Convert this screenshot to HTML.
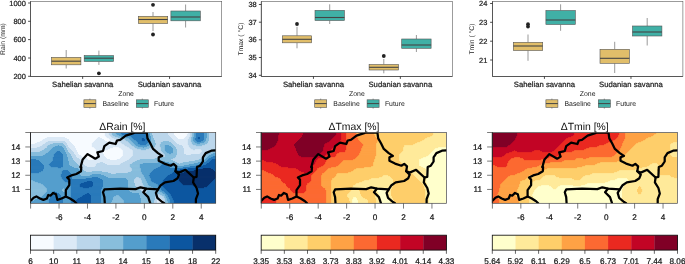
<!DOCTYPE html>
<html><head><meta charset="utf-8"><title>Figure</title>
<style>html,body{margin:0;padding:0;background:#fff;overflow:hidden}svg{display:block}</style></head>
<body><svg width="685" height="264" viewBox="0 0 685 264" text-rendering="geometricPrecision">
<rect width="685" height="264" fill="#fff"/>
<rect x="30.5" y="1.6" width="191.2" height="74.9" fill="#fff" stroke="#5a5a5a" stroke-width="0.6"/>
<line x1="66.2" y1="50" x2="66.2" y2="57.3" stroke="#555" stroke-width="0.6"/>
<line x1="66.2" y1="64.8" x2="66.2" y2="68.5" stroke="#555" stroke-width="0.6"/>
<rect x="51.5" y="57.3" width="29.4" height="7.5" fill="#E1BE6A" stroke="#555" stroke-width="0.6"/>
<line x1="51.5" y1="61.2" x2="80.9" y2="61.2" stroke="#444" stroke-width="1.1"/>
<line x1="98.9" y1="50.6" x2="98.9" y2="55.6" stroke="#555" stroke-width="0.6"/>
<line x1="98.9" y1="61.5" x2="98.9" y2="64.9" stroke="#555" stroke-width="0.6"/>
<rect x="84.2" y="55.6" width="29.4" height="5.899999999999999" fill="#40B0A6" stroke="#555" stroke-width="0.6"/>
<line x1="84.2" y1="58.2" x2="113.60000000000001" y2="58.2" stroke="#444" stroke-width="1.1"/>
<line x1="153" y1="12" x2="153" y2="16.3" stroke="#555" stroke-width="0.6"/>
<line x1="153" y1="23.5" x2="153" y2="31" stroke="#555" stroke-width="0.6"/>
<rect x="138.3" y="16.3" width="29.4" height="7.199999999999999" fill="#E1BE6A" stroke="#555" stroke-width="0.6"/>
<line x1="138.3" y1="19.5" x2="167.7" y2="19.5" stroke="#444" stroke-width="1.1"/>
<line x1="185.6" y1="4.5" x2="185.6" y2="11" stroke="#555" stroke-width="0.6"/>
<line x1="185.6" y1="20.8" x2="185.6" y2="27.5" stroke="#555" stroke-width="0.6"/>
<rect x="170.9" y="11" width="29.4" height="9.8" fill="#40B0A6" stroke="#555" stroke-width="0.6"/>
<line x1="170.9" y1="17" x2="200.29999999999998" y2="17" stroke="#444" stroke-width="1.1"/>
<circle cx="98.9" cy="73.3" r="1.9" fill="#222"/>
<circle cx="153" cy="4.8" r="1.9" fill="#222"/>
<circle cx="153" cy="34.5" r="1.9" fill="#222"/>
<line x1="30.5" y1="1.6" x2="30.5" y2="76.5" stroke="#3a3a3a" stroke-width="0.7"/>
<line x1="30.5" y1="76.5" x2="221.7" y2="76.5" stroke="#3a3a3a" stroke-width="0.7"/>
<line x1="28.1" y1="3" x2="30.5" y2="3" stroke="#222" stroke-width="0.8"/>
<text x="25.9" y="5.6" text-anchor="end" font-family="Liberation Sans, Arial, Helvetica, sans-serif" stroke="#222" stroke-width="0.22" font-size="7.45" fill="#222">1000</text>
<line x1="28.1" y1="21.3" x2="30.5" y2="21.3" stroke="#222" stroke-width="0.8"/>
<text x="25.9" y="23.900000000000002" text-anchor="end" font-family="Liberation Sans, Arial, Helvetica, sans-serif" stroke="#222" stroke-width="0.22" font-size="7.45" fill="#222">800</text>
<line x1="28.1" y1="39.6" x2="30.5" y2="39.6" stroke="#222" stroke-width="0.8"/>
<text x="25.9" y="42.2" text-anchor="end" font-family="Liberation Sans, Arial, Helvetica, sans-serif" stroke="#222" stroke-width="0.22" font-size="7.45" fill="#222">600</text>
<line x1="28.1" y1="58" x2="30.5" y2="58" stroke="#222" stroke-width="0.8"/>
<text x="25.9" y="60.6" text-anchor="end" font-family="Liberation Sans, Arial, Helvetica, sans-serif" stroke="#222" stroke-width="0.22" font-size="7.45" fill="#222">400</text>
<line x1="28.1" y1="76.3" x2="30.5" y2="76.3" stroke="#222" stroke-width="0.8"/>
<text x="25.9" y="78.89999999999999" text-anchor="end" font-family="Liberation Sans, Arial, Helvetica, sans-serif" stroke="#222" stroke-width="0.22" font-size="7.45" fill="#222">200</text>
<line x1="82.65" y1="76.5" x2="82.65" y2="78.9" stroke="#222" stroke-width="0.8"/>
<text x="82.65" y="86.9" text-anchor="middle" font-family="Liberation Sans, Arial, Helvetica, sans-serif" stroke="#222" stroke-width="0.22" font-size="7.7" fill="#1a1a1a">Sahelian savanna</text>
<line x1="169.55" y1="76.5" x2="169.55" y2="78.9" stroke="#222" stroke-width="0.8"/>
<text x="169.55" y="86.9" text-anchor="middle" font-family="Liberation Sans, Arial, Helvetica, sans-serif" stroke="#222" stroke-width="0.22" font-size="7.7" fill="#1a1a1a">Sudanian savanna</text>
<text transform="translate(5.3,39.05) rotate(-90)" text-anchor="middle" font-family="Liberation Sans, Arial, Helvetica, sans-serif" font-size="6.8" fill="#222">Rain (mm)</text>
<text x="126.10" y="95.6" text-anchor="middle" font-family="Liberation Sans, Arial, Helvetica, sans-serif" font-size="6.9" fill="#1a1a1a">Zone</text>
<line x1="89.9" y1="98.6" x2="89.9" y2="108.6" stroke="#555" stroke-width="0.6"/>
<rect x="83.9" y="99.8" width="12" height="7.6" fill="#E1BE6A" stroke="#555" stroke-width="0.6"/>
<line x1="83.9" y1="103.6" x2="95.9" y2="103.6" stroke="#444" stroke-width="1"/>
<text x="102.5" y="106" font-family="Liberation Sans, Arial, Helvetica, sans-serif" font-size="6.9" fill="#1a1a1a">Baseline</text>
<line x1="142.3" y1="98.6" x2="142.3" y2="108.6" stroke="#555" stroke-width="0.6"/>
<rect x="136.3" y="99.8" width="12" height="7.6" fill="#40B0A6" stroke="#555" stroke-width="0.6"/>
<line x1="136.3" y1="103.6" x2="148.3" y2="103.6" stroke="#444" stroke-width="1"/>
<text x="154.1" y="106" font-family="Liberation Sans, Arial, Helvetica, sans-serif" font-size="6.9" fill="#1a1a1a">Future</text>
<rect x="261.3" y="1.6" width="191.2" height="74.9" fill="#fff" stroke="#5a5a5a" stroke-width="0.6"/>
<line x1="297" y1="26.8" x2="297" y2="35.8" stroke="#555" stroke-width="0.6"/>
<line x1="297" y1="42.8" x2="297" y2="48.3" stroke="#555" stroke-width="0.6"/>
<rect x="282.3" y="35.8" width="29.4" height="7.0" fill="#E1BE6A" stroke="#555" stroke-width="0.6"/>
<line x1="282.3" y1="39.3" x2="311.7" y2="39.3" stroke="#444" stroke-width="1.1"/>
<line x1="329.7" y1="4.3" x2="329.7" y2="10.3" stroke="#555" stroke-width="0.6"/>
<line x1="329.7" y1="20.5" x2="329.7" y2="24" stroke="#555" stroke-width="0.6"/>
<rect x="315.0" y="10.3" width="29.4" height="10.2" fill="#40B0A6" stroke="#555" stroke-width="0.6"/>
<line x1="315.0" y1="17.5" x2="344.4" y2="17.5" stroke="#444" stroke-width="1.1"/>
<line x1="383.8" y1="59" x2="383.8" y2="64.5" stroke="#555" stroke-width="0.6"/>
<line x1="383.8" y1="70" x2="383.8" y2="73.3" stroke="#555" stroke-width="0.6"/>
<rect x="369.1" y="64.5" width="29.4" height="5.5" fill="#E1BE6A" stroke="#555" stroke-width="0.6"/>
<line x1="369.1" y1="67.3" x2="398.5" y2="67.3" stroke="#444" stroke-width="1.1"/>
<line x1="416.4" y1="35" x2="416.4" y2="39" stroke="#555" stroke-width="0.6"/>
<line x1="416.4" y1="48.3" x2="416.4" y2="52" stroke="#555" stroke-width="0.6"/>
<rect x="401.7" y="39" width="29.4" height="9.299999999999997" fill="#40B0A6" stroke="#555" stroke-width="0.6"/>
<line x1="401.7" y1="45" x2="431.09999999999997" y2="45" stroke="#444" stroke-width="1.1"/>
<circle cx="297" cy="24" r="1.9" fill="#222"/>
<circle cx="383.8" cy="56" r="1.9" fill="#222"/>
<line x1="261.3" y1="1.6" x2="261.3" y2="76.5" stroke="#3a3a3a" stroke-width="0.7"/>
<line x1="261.3" y1="76.5" x2="452.5" y2="76.5" stroke="#3a3a3a" stroke-width="0.7"/>
<line x1="258.90000000000003" y1="4.5" x2="261.3" y2="4.5" stroke="#222" stroke-width="0.8"/>
<text x="256.7" y="7.1" text-anchor="end" font-family="Liberation Sans, Arial, Helvetica, sans-serif" stroke="#222" stroke-width="0.22" font-size="7.45" fill="#222">38</text>
<line x1="258.90000000000003" y1="22.2" x2="261.3" y2="22.2" stroke="#222" stroke-width="0.8"/>
<text x="256.7" y="24.8" text-anchor="end" font-family="Liberation Sans, Arial, Helvetica, sans-serif" stroke="#222" stroke-width="0.22" font-size="7.45" fill="#222">37</text>
<line x1="258.90000000000003" y1="39.8" x2="261.3" y2="39.8" stroke="#222" stroke-width="0.8"/>
<text x="256.7" y="42.4" text-anchor="end" font-family="Liberation Sans, Arial, Helvetica, sans-serif" stroke="#222" stroke-width="0.22" font-size="7.45" fill="#222">36</text>
<line x1="258.90000000000003" y1="57.5" x2="261.3" y2="57.5" stroke="#222" stroke-width="0.8"/>
<text x="256.7" y="60.1" text-anchor="end" font-family="Liberation Sans, Arial, Helvetica, sans-serif" stroke="#222" stroke-width="0.22" font-size="7.45" fill="#222">35</text>
<line x1="258.90000000000003" y1="75.3" x2="261.3" y2="75.3" stroke="#222" stroke-width="0.8"/>
<text x="256.7" y="77.89999999999999" text-anchor="end" font-family="Liberation Sans, Arial, Helvetica, sans-serif" stroke="#222" stroke-width="0.22" font-size="7.45" fill="#222">34</text>
<line x1="313.45" y1="76.5" x2="313.45" y2="78.9" stroke="#222" stroke-width="0.8"/>
<text x="313.45" y="86.9" text-anchor="middle" font-family="Liberation Sans, Arial, Helvetica, sans-serif" stroke="#222" stroke-width="0.22" font-size="7.7" fill="#1a1a1a">Sahelian savanna</text>
<line x1="400.35" y1="76.5" x2="400.35" y2="78.9" stroke="#222" stroke-width="0.8"/>
<text x="400.35" y="86.9" text-anchor="middle" font-family="Liberation Sans, Arial, Helvetica, sans-serif" stroke="#222" stroke-width="0.22" font-size="7.7" fill="#1a1a1a">Sudanian savanna</text>
<text transform="translate(242.9,39.05) rotate(-90)" text-anchor="middle" font-family="Liberation Sans, Arial, Helvetica, sans-serif" font-size="6.8" fill="#222">Tmax ( °C)</text>
<text x="356.90" y="95.6" text-anchor="middle" font-family="Liberation Sans, Arial, Helvetica, sans-serif" font-size="6.9" fill="#1a1a1a">Zone</text>
<line x1="320.7" y1="98.6" x2="320.7" y2="108.6" stroke="#555" stroke-width="0.6"/>
<rect x="314.7" y="99.8" width="12" height="7.6" fill="#E1BE6A" stroke="#555" stroke-width="0.6"/>
<line x1="314.7" y1="103.6" x2="326.7" y2="103.6" stroke="#444" stroke-width="1"/>
<text x="333.3" y="106" font-family="Liberation Sans, Arial, Helvetica, sans-serif" font-size="6.9" fill="#1a1a1a">Baseline</text>
<line x1="373.1" y1="98.6" x2="373.1" y2="108.6" stroke="#555" stroke-width="0.6"/>
<rect x="367.1" y="99.8" width="12" height="7.6" fill="#40B0A6" stroke="#555" stroke-width="0.6"/>
<line x1="367.1" y1="103.6" x2="379.1" y2="103.6" stroke="#444" stroke-width="1"/>
<text x="384.9" y="106" font-family="Liberation Sans, Arial, Helvetica, sans-serif" font-size="6.9" fill="#1a1a1a">Future</text>
<rect x="492.5" y="1.6" width="190.39999999999998" height="74.9" fill="#fff" stroke="#5a5a5a" stroke-width="0.6"/>
<line x1="528" y1="34.5" x2="528" y2="42.3" stroke="#555" stroke-width="0.6"/>
<line x1="528" y1="50.5" x2="528" y2="60.8" stroke="#555" stroke-width="0.6"/>
<rect x="513.3" y="42.3" width="29.4" height="8.200000000000003" fill="#E1BE6A" stroke="#555" stroke-width="0.6"/>
<line x1="513.3" y1="46" x2="542.7" y2="46" stroke="#444" stroke-width="1.1"/>
<line x1="560.6" y1="4.3" x2="560.6" y2="10.5" stroke="#555" stroke-width="0.6"/>
<line x1="560.6" y1="24.5" x2="560.6" y2="30.8" stroke="#555" stroke-width="0.6"/>
<rect x="545.9" y="10.5" width="29.4" height="14.0" fill="#40B0A6" stroke="#555" stroke-width="0.6"/>
<line x1="545.9" y1="20" x2="575.3000000000001" y2="20" stroke="#444" stroke-width="1.1"/>
<line x1="614.7" y1="41.8" x2="614.7" y2="49.3" stroke="#555" stroke-width="0.6"/>
<line x1="614.7" y1="63.3" x2="614.7" y2="73" stroke="#555" stroke-width="0.6"/>
<rect x="600.0" y="49.3" width="29.4" height="14.0" fill="#E1BE6A" stroke="#555" stroke-width="0.6"/>
<line x1="600.0" y1="58.3" x2="629.4000000000001" y2="58.3" stroke="#444" stroke-width="1.1"/>
<line x1="647.2" y1="18" x2="647.2" y2="26" stroke="#555" stroke-width="0.6"/>
<line x1="647.2" y1="36" x2="647.2" y2="45.5" stroke="#555" stroke-width="0.6"/>
<rect x="632.5" y="26" width="29.4" height="10" fill="#40B0A6" stroke="#555" stroke-width="0.6"/>
<line x1="632.5" y1="32" x2="661.9000000000001" y2="32" stroke="#444" stroke-width="1.1"/>
<circle cx="528" cy="24.2" r="1.9" fill="#222"/>
<circle cx="528" cy="26.6" r="1.9" fill="#222"/>
<line x1="492.5" y1="1.6" x2="492.5" y2="76.5" stroke="#3a3a3a" stroke-width="0.7"/>
<line x1="492.5" y1="76.5" x2="682.9" y2="76.5" stroke="#3a3a3a" stroke-width="0.7"/>
<line x1="490.1" y1="3.5" x2="492.5" y2="3.5" stroke="#222" stroke-width="0.8"/>
<text x="487.3" y="6.1" text-anchor="end" font-family="Liberation Sans, Arial, Helvetica, sans-serif" stroke="#222" stroke-width="0.22" font-size="7.45" fill="#222">24</text>
<line x1="490.1" y1="22.3" x2="492.5" y2="22.3" stroke="#222" stroke-width="0.8"/>
<text x="487.3" y="24.900000000000002" text-anchor="end" font-family="Liberation Sans, Arial, Helvetica, sans-serif" stroke="#222" stroke-width="0.22" font-size="7.45" fill="#222">23</text>
<line x1="490.1" y1="41.2" x2="492.5" y2="41.2" stroke="#222" stroke-width="0.8"/>
<text x="487.3" y="43.800000000000004" text-anchor="end" font-family="Liberation Sans, Arial, Helvetica, sans-serif" stroke="#222" stroke-width="0.22" font-size="7.45" fill="#222">22</text>
<line x1="490.1" y1="60" x2="492.5" y2="60" stroke="#222" stroke-width="0.8"/>
<text x="487.3" y="62.6" text-anchor="end" font-family="Liberation Sans, Arial, Helvetica, sans-serif" stroke="#222" stroke-width="0.22" font-size="7.45" fill="#222">21</text>
<line x1="544.43" y1="76.5" x2="544.43" y2="78.9" stroke="#222" stroke-width="0.8"/>
<text x="544.43" y="86.9" text-anchor="middle" font-family="Liberation Sans, Arial, Helvetica, sans-serif" stroke="#222" stroke-width="0.22" font-size="7.7" fill="#1a1a1a">Sahelian savanna</text>
<line x1="630.97" y1="76.5" x2="630.97" y2="78.9" stroke="#222" stroke-width="0.8"/>
<text x="630.97" y="86.9" text-anchor="middle" font-family="Liberation Sans, Arial, Helvetica, sans-serif" stroke="#222" stroke-width="0.22" font-size="7.7" fill="#1a1a1a">Sudanian savanna</text>
<text transform="translate(473.6,39.05) rotate(-90)" text-anchor="middle" font-family="Liberation Sans, Arial, Helvetica, sans-serif" font-size="6.8" fill="#222">Tmin ( °C)</text>
<text x="587.70" y="95.6" text-anchor="middle" font-family="Liberation Sans, Arial, Helvetica, sans-serif" font-size="6.9" fill="#1a1a1a">Zone</text>
<line x1="551.9" y1="98.6" x2="551.9" y2="108.6" stroke="#555" stroke-width="0.6"/>
<rect x="545.9" y="99.8" width="12" height="7.6" fill="#E1BE6A" stroke="#555" stroke-width="0.6"/>
<line x1="545.9" y1="103.6" x2="557.9" y2="103.6" stroke="#444" stroke-width="1"/>
<text x="564.5" y="106" font-family="Liberation Sans, Arial, Helvetica, sans-serif" font-size="6.9" fill="#1a1a1a">Baseline</text>
<line x1="604.3" y1="98.6" x2="604.3" y2="108.6" stroke="#555" stroke-width="0.6"/>
<rect x="598.3" y="99.8" width="12" height="7.6" fill="#40B0A6" stroke="#555" stroke-width="0.6"/>
<line x1="598.3" y1="103.6" x2="610.3" y2="103.6" stroke="#444" stroke-width="1"/>
<text x="616.1" y="106" font-family="Liberation Sans, Arial, Helvetica, sans-serif" font-size="6.9" fill="#1a1a1a">Future</text>
<g shape-rendering="crispEdges" transform="translate(30.5,132.5) scale(1.00108,0.99718)">
<rect x="0" y="0" width="185" height="71" fill="#F7FBFF"/>
<path fill="#DBE9F6" stroke="#DBE9F6" stroke-width="0.15" d="M157 0h2v2h-2zM74 0h4v3h-4zM137 0h6v3h-6zM74 3h5v1h-5zM138 3h6v1h-6zM156 2h3v2h-3zM75 4h5v1h-5zM139 4h6v1h-6zM155 4h4v1h-4zM16 5h18v1h-18zM67 5h2v1h-2zM76 5h5v1h-5zM140 5h6v1h-6zM154 5h4v1h-4zM14 6h22v1h-22zM66 6h5v1h-5zM78 6h5v1h-5zM141 6h6v1h-6zM153 6h5v1h-5zM12 7h26v1h-26zM65 7h8v1h-8zM79 7h6v1h-6zM142 7h15v1h-15zM11 8h27v1h-27zM64 8h10v1h-10zM79 8h9v1h-9zM143 8h14v1h-14zM9 9h8v1h-8zM34 9h5v1h-5zM63 9h13v1h-13zM78 9h11v1h-11zM144 9h13v1h-13zM6 10h9v1h-9zM35 10h5v1h-5zM62 10h28v1h-28zM145 10h12v1h-12zM4 11h10v1h-10zM36 11h5v1h-5zM61 11h30v1h-30zM146 11h11v1h-11zM0 12h12v1h-12zM36 12h6v1h-6zM61 12h32v1h-32zM148 12h9v1h-9zM0 13h11v1h-11zM37 13h6v1h-6zM61 13h33v1h-33zM151 13h7v1h-7zM0 14h9v1h-9zM37 14h7v1h-7zM61 14h35v1h-35zM152 14h6v1h-6zM0 15h6v1h-6zM38 15h6v1h-6zM63 15h19v1h-19zM88 15h10v1h-10zM152 15h7v1h-7zM39 16h6v1h-6zM64 16h15v1h-15zM90 16h9v1h-9zM153 16h7v1h-7zM40 17h5v1h-5zM65 17h12v1h-12zM91 17h10v1h-10zM153 17h9v1h-9zM164 17h6v1h-6zM41 18h5v1h-5zM65 18h9v1h-9zM42 19h4v1h-4zM66 19h7v1h-7zM153 18h18v2h-18zM153 20h17v1h-17zM43 20h4v2h-4zM66 20h6v2h-6zM153 21h16v1h-16zM44 22h4v1h-4zM155 22h5v1h-5zM45 23h5v1h-5zM67 22h6v2h-6zM92 18h10v6h-10zM45 24h6v1h-6zM66 24h8v1h-8zM91 24h10v1h-10zM46 25h7v1h-7zM65 25h10v1h-10zM90 25h10v1h-10zM48 26h8v1h-8zM64 26h12v1h-12zM89 26h10v1h-10zM49 27h8v1h-8zM62 27h17v1h-17zM86 27h12v1h-12zM50 28h46v1h-46zM51 29h43v1h-43zM51 30h18v1h-18zM72 30h20v1h-20zM52 31h14v1h-14zM74 31h16v1h-16zM53 32h12v1h-12zM76 32h13v1h-13zM54 33h11v1h-11zM56 34h8v1h-8zM127 66h3v1h-3zM126 67h5v1h-5zM126 68h6v3h-6z"/>
<path fill="#BBD6EB" stroke="#BBD6EB" stroke-width="0.15" d="M78 0h3v3h-3zM121 0h16v3h-16zM79 3h3v1h-3zM122 3h16v1h-16zM80 4h4v1h-4zM122 4h17v1h-17zM159 0h2v5h-2zM81 5h6v1h-6zM122 5h18v1h-18zM83 6h8v1h-8zM123 6h18v1h-18zM158 5h2v2h-2zM85 7h9v1h-9zM123 7h19v1h-19zM88 8h7v1h-7zM124 8h19v1h-19zM178 0h7v9h-7zM17 9h17v1h-17zM89 9h8v1h-8zM124 9h8v1h-8zM138 9h6v1h-6zM157 7h3v3h-3zM15 10h20v1h-20zM90 10h8v1h-8zM124 10h6v1h-6zM140 10h5v1h-5zM177 9h8v2h-8zM14 11h8v1h-8zM32 11h4v1h-4zM91 11h8v1h-8zM125 11h5v1h-5zM141 11h5v1h-5zM157 10h4v2h-4zM176 11h9v1h-9zM12 12h7v1h-7zM33 12h3v1h-3zM93 12h7v1h-7zM125 12h4v1h-4zM142 12h6v1h-6zM157 12h5v1h-5zM174 12h11v1h-11zM11 13h6v1h-6zM34 13h3v1h-3zM94 13h7v1h-7zM143 13h8v1h-8zM158 13h7v1h-7zM171 13h14v1h-14zM9 14h7v1h-7zM35 14h2v1h-2zM96 14h7v1h-7zM124 13h5v2h-5zM144 14h8v1h-8zM158 14h27v1h-27zM6 15h10v1h-10zM35 15h3v1h-3zM98 15h6v1h-6zM122 15h8v1h-8zM145 15h7v1h-7zM159 15h26v1h-26zM0 16h14v1h-14zM36 16h3v1h-3zM99 16h7v1h-7zM118 16h12v1h-12zM145 16h8v1h-8zM160 16h25v1h-25zM0 17h13v1h-13zM36 17h4v1h-4zM101 17h9v1h-9zM115 17h15v1h-15zM162 17h2v1h-2zM170 17h12v1h-12zM0 18h11v1h-11zM37 18h4v1h-4zM102 18h28v1h-28zM171 18h9v1h-9zM0 19h9v1h-9zM37 19h5v1h-5zM102 19h29v1h-29zM171 19h8v1h-8zM38 20h5v1h-5zM102 20h30v1h-30zM170 20h7v1h-7zM39 21h4v1h-4zM102 21h31v1h-31zM146 17h7v5h-7zM169 21h7v1h-7zM40 22h4v1h-4zM146 22h9v1h-9zM160 22h15v1h-15zM40 23h5v1h-5zM102 22h32v2h-32zM145 23h29v1h-29zM41 24h4v1h-4zM101 24h33v1h-33zM145 24h28v1h-28zM41 25h5v1h-5zM100 25h27v1h-27zM144 25h28v1h-28zM42 26h6v1h-6zM99 26h25v1h-25zM142 26h28v1h-28zM42 27h7v1h-7zM98 27h11v1h-11zM140 27h28v1h-28zM43 28h7v1h-7zM96 28h10v1h-10zM142 28h22v1h-22zM44 29h7v1h-7zM94 29h10v1h-10zM144 29h14v1h-14zM45 30h6v1h-6zM69 30h3v1h-3zM92 30h10v1h-10zM146 30h6v1h-6zM46 31h6v1h-6zM66 31h8v1h-8zM90 31h11v1h-11zM148 31h1v1h-1zM47 32h6v1h-6zM65 32h11v1h-11zM89 32h10v1h-10zM48 33h6v1h-6zM65 33h34v1h-34zM50 34h6v1h-6zM64 34h35v1h-35zM51 35h49v1h-49zM51 36h50v1h-50zM52 37h49v1h-49zM53 38h48v1h-48zM55 39h6v1h-6zM71 39h29v1h-29zM77 40h20v1h-20zM80 41h5v1h-5zM105 45h3v1h-3zM104 46h6v1h-6zM103 47h7v1h-7zM103 48h8v3h-8zM104 51h8v2h-8zM104 53h9v1h-9zM105 54h8v1h-8zM106 55h8v1h-8zM107 56h8v1h-8zM109 57h7v1h-7zM110 58h6v1h-6zM111 59h5v1h-5zM111 60h4v1h-4zM112 61h2v1h-2zM126 62h3v1h-3zM125 63h6v1h-6zM124 64h9v2h-9zM124 66h3v1h-3zM130 66h4v1h-4zM124 67h2v1h-2zM131 67h3v1h-3zM123 68h3v3h-3zM132 68h2v3h-2z"/>
<path fill="#88BEDC" stroke="#88BEDC" stroke-width="0.15" d="M81 0h4v2h-4zM81 2h5v1h-5zM119 0h2v3h-2zM82 3h6v1h-6zM119 3h3v1h-3zM84 4h6v1h-6zM161 0h2v5h-2zM87 5h8v1h-8zM120 4h2v2h-2zM176 0h2v6h-2zM91 6h7v1h-7zM94 7h5v1h-5zM120 6h3v2h-3zM95 8h5v1h-5zM160 5h2v4h-2zM175 6h3v3h-3zM97 9h4v1h-4zM132 9h6v1h-6zM160 9h3v1h-3zM174 9h3v1h-3zM98 10h4v1h-4zM120 8h4v3h-4zM130 10h10v1h-10zM161 10h3v1h-3zM173 10h4v1h-4zM22 11h10v1h-10zM99 11h4v1h-4zM130 11h11v1h-11zM161 11h5v1h-5zM169 11h7v1h-7zM19 12h14v1h-14zM100 12h4v1h-4zM120 11h5v2h-5zM129 12h13v1h-13zM162 12h12v1h-12zM17 13h10v1h-10zM28 13h6v1h-6zM101 13h4v1h-4zM118 13h6v1h-6zM138 13h5v1h-5zM165 13h6v1h-6zM16 14h8v1h-8zM31 14h4v1h-4zM103 14h4v1h-4zM116 14h8v1h-8zM129 13h5v2h-5zM140 14h4v1h-4zM16 15h6v1h-6zM32 15h3v1h-3zM104 15h8v1h-8zM113 15h9v1h-9zM141 15h4v1h-4zM14 16h7v1h-7zM106 16h12v1h-12zM142 16h3v1h-3zM13 17h7v1h-7zM33 16h3v2h-3zM110 17h5v1h-5zM182 17h3v1h-3zM11 18h8v1h-8zM130 15h4v4h-4zM180 18h5v1h-5zM9 19h9v1h-9zM34 18h3v2h-3zM131 19h4v1h-4zM179 19h6v1h-6zM0 20h17v1h-17zM35 20h3v1h-3zM132 20h4v1h-4zM142 17h4v4h-4zM177 20h8v1h-8zM0 21h15v1h-15zM35 21h4v1h-4zM133 21h5v1h-5zM140 21h6v1h-6zM176 21h6v1h-6zM0 22h14v1h-14zM134 22h12v1h-12zM175 22h5v1h-5zM0 23h12v1h-12zM36 22h4v2h-4zM174 23h4v1h-4zM36 24h5v1h-5zM134 23h11v2h-11zM173 24h4v1h-4zM37 25h4v1h-4zM127 25h17v1h-17zM172 25h4v1h-4zM124 26h18v1h-18zM170 26h5v1h-5zM37 26h5v2h-5zM109 27h31v1h-31zM168 27h6v1h-6zM37 28h6v1h-6zM106 28h36v1h-36zM164 28h9v1h-9zM38 29h6v1h-6zM104 29h26v1h-26zM134 29h10v1h-10zM158 29h12v1h-12zM38 30h7v1h-7zM102 30h25v1h-25zM138 30h8v1h-8zM152 30h15v1h-15zM38 31h8v1h-8zM101 31h11v1h-11zM141 31h7v1h-7zM149 31h14v1h-14zM38 32h9v1h-9zM144 32h14v1h-14zM39 33h9v1h-9zM145 33h8v1h-8zM41 34h9v1h-9zM99 32h10v3h-10zM43 35h8v1h-8zM100 35h9v1h-9zM47 36h4v1h-4zM48 37h4v1h-4zM49 38h4v1h-4zM101 36h9v3h-9zM49 39h6v1h-6zM61 39h10v1h-10zM100 39h10v1h-10zM49 40h28v1h-28zM97 40h14v1h-14zM49 41h31v1h-31zM85 41h26v1h-26zM49 42h12v1h-12zM70 42h42v1h-42zM50 43h9v1h-9zM73 43h40v1h-40zM75 44h38v1h-38zM77 45h28v1h-28zM108 45h6v1h-6zM95 46h9v1h-9zM110 46h4v1h-4zM96 47h7v1h-7zM110 47h5v1h-5zM0 48h2v1h-2zM111 48h4v1h-4zM0 49h4v1h-4zM0 50h7v1h-7zM97 48h6v3h-6zM111 49h5v2h-5zM0 51h10v1h-10zM0 52h12v1h-12zM112 51h5v2h-5zM0 53h13v1h-13zM97 51h7v3h-7zM113 53h5v1h-5zM0 54h14v1h-14zM97 54h8v1h-8zM113 54h7v1h-7zM0 55h15v1h-15zM97 55h9v1h-9zM114 55h8v1h-8zM32 56h1v1h-1zM97 56h10v1h-10zM115 56h9v1h-9zM97 57h12v1h-12zM116 57h10v1h-10zM31 57h3v2h-3zM98 58h12v1h-12zM116 58h11v1h-11zM0 56h16v4h-16zM32 59h2v1h-2zM99 59h12v1h-12zM116 59h13v1h-13zM0 60h15v1h-15zM101 60h10v1h-10zM115 60h16v1h-16zM0 61h14v1h-14zM108 61h4v1h-4zM114 61h18v1h-18zM0 62h13v1h-13zM108 62h18v1h-18zM129 62h5v1h-5zM0 63h12v1h-12zM85 63h3v1h-3zM109 63h16v1h-16zM131 63h3v1h-3zM0 64h11v1h-11zM83 64h6v1h-6zM0 65h9v1h-9zM82 65h8v1h-8zM109 64h15v2h-15zM133 64h2v2h-2zM0 66h6v1h-6zM82 66h9v1h-9zM0 67h4v1h-4zM82 67h10v1h-10zM110 66h14v2h-14zM0 68h3v1h-3zM134 66h2v3h-2zM0 69h1v1h-1zM81 68h12v2h-12zM80 70h13v1h-13zM110 68h13v3h-13zM134 69h3v2h-3z"/>
<path fill="#549ECD" stroke="#549ECD" stroke-width="0.15" d="M163 0h3v1h-3zM85 0h5v2h-5zM86 2h5v1h-5zM115 0h4v3h-4zM88 3h8v1h-8zM116 3h3v1h-3zM90 4h10v1h-10zM163 1h2v4h-2zM95 5h6v1h-6zM117 4h3v2h-3zM162 5h3v1h-3zM173 0h3v6h-3zM98 6h4v1h-4zM99 7h4v1h-4zM162 6h2v2h-2zM173 6h2v2h-2zM100 8h5v1h-5zM162 8h3v1h-3zM172 8h3v1h-3zM101 9h5v1h-5zM118 6h2v4h-2zM163 9h3v1h-3zM170 9h4v1h-4zM102 10h5v1h-5zM117 10h3v1h-3zM164 10h9v1h-9zM103 11h4v1h-4zM116 11h4v1h-4zM166 11h3v1h-3zM104 12h5v1h-5zM115 12h5v1h-5zM27 13h1v1h-1zM105 13h13v1h-13zM134 13h4v1h-4zM24 14h7v1h-7zM107 14h9v1h-9zM134 14h6v1h-6zM22 15h10v1h-10zM112 15h1v1h-1zM134 15h7v1h-7zM21 16h12v1h-12zM20 17h13v1h-13zM19 18h15v1h-15zM134 16h8v3h-8zM18 19h8v1h-8zM29 19h5v1h-5zM135 19h7v1h-7zM17 20h8v1h-8zM30 20h5v1h-5zM136 20h6v1h-6zM15 21h9v1h-9zM31 21h4v1h-4zM138 21h2v1h-2zM182 21h3v1h-3zM14 22h9v1h-9zM180 22h5v1h-5zM12 23h11v1h-11zM178 23h7v1h-7zM0 24h23v1h-23zM32 22h4v3h-4zM177 24h5v1h-5zM176 25h4v1h-4zM0 25h22v2h-22zM175 26h3v1h-3zM5 27h17v1h-17zM174 27h3v1h-3zM8 28h14v1h-14zM32 25h5v4h-5zM173 28h3v1h-3zM9 29h12v1h-12zM130 29h4v1h-4zM170 29h5v1h-5zM10 30h10v1h-10zM127 30h11v1h-11zM167 30h6v1h-6zM11 31h8v1h-8zM112 31h29v1h-29zM163 31h8v1h-8zM12 32h6v1h-6zM32 29h6v4h-6zM109 32h22v1h-22zM134 32h10v1h-10zM158 32h10v1h-10zM13 33h6v1h-6zM32 33h7v1h-7zM109 33h21v1h-21zM136 33h9v1h-9zM153 33h12v1h-12zM13 34h7v1h-7zM32 34h9v1h-9zM109 34h20v1h-20zM138 34h21v1h-21zM13 35h14v1h-14zM30 35h13v1h-13zM109 35h18v1h-18zM139 35h13v1h-13zM13 36h34v1h-34zM110 36h15v1h-15zM12 37h36v1h-36zM110 37h13v1h-13zM12 38h20v1h-20zM37 38h12v1h-12zM110 38h12v1h-12zM10 39h21v1h-21zM38 39h11v1h-11zM110 39h11v1h-11zM8 40h23v1h-23zM39 40h10v1h-10zM111 40h9v1h-9zM0 41h31v1h-31zM111 41h8v1h-8zM40 41h9v2h-9zM61 42h9v1h-9zM112 42h7v1h-7zM40 43h10v1h-10zM59 43h14v1h-14zM113 43h5v1h-5zM0 42h30v3h-30zM40 44h35v1h-35zM113 44h6v1h-6zM41 45h20v1h-20zM67 45h10v1h-10zM114 45h5v1h-5zM0 45h31v2h-31zM41 46h14v1h-14zM69 46h26v1h-26zM114 46h6v1h-6zM0 47h32v1h-32zM71 47h25v1h-25zM2 48h31v1h-31zM115 47h5v2h-5zM4 49h30v1h-30zM116 49h5v1h-5zM7 50h30v1h-30zM116 50h7v1h-7zM10 51h29v1h-29zM117 51h8v1h-8zM12 52h28v1h-28zM117 52h10v1h-10zM13 53h27v1h-27zM118 53h9v1h-9zM14 54h26v1h-26zM72 48h25v7h-25zM120 54h8v1h-8zM15 55h25v1h-25zM122 55h7v1h-7zM16 56h16v1h-16zM33 56h7v1h-7zM71 55h26v2h-26zM124 56h6v1h-6zM70 57h27v1h-27zM126 57h4v1h-4zM16 57h15v2h-15zM70 58h28v1h-28zM127 58h4v1h-4zM16 59h7v1h-7zM24 59h8v1h-8zM34 57h6v3h-6zM70 59h29v1h-29zM129 59h4v1h-4zM15 60h7v1h-7zM26 60h14v1h-14zM70 60h31v1h-31zM131 60h3v1h-3zM14 61h7v1h-7zM28 61h12v1h-12zM132 61h3v1h-3zM13 62h8v1h-8zM29 62h11v1h-11zM70 61h38v2h-38zM134 62h2v1h-2zM12 63h8v1h-8zM70 63h15v1h-15zM88 63h21v1h-21zM134 63h3v1h-3zM11 64h9v1h-9zM30 63h10v2h-10zM70 64h13v1h-13zM89 64h20v1h-20zM135 64h2v1h-2zM9 65h10v1h-10zM90 65h19v1h-19zM135 65h3v1h-3zM6 66h13v1h-13zM31 65h9v2h-9zM91 66h19v1h-19zM136 66h2v1h-2zM4 67h14v1h-14zM70 65h12v3h-12zM92 67h18v1h-18zM3 68h15v1h-15zM136 67h3v2h-3zM1 69h17v1h-17zM70 68h11v2h-11zM0 70h18v1h-18zM32 67h8v4h-8zM70 70h10v1h-10zM93 68h17v3h-17zM137 69h2v2h-2z"/>
<path fill="#2A7ABA" stroke="#2A7ABA" stroke-width="0.15" d="M166 0h7v1h-7zM90 0h25v2h-25zM91 2h24v1h-24zM96 3h20v1h-20zM100 4h17v1h-17zM165 1h8v4h-8zM101 5h16v1h-16zM165 5h2v1h-2zM102 6h9v1h-9zM113 6h5v1h-5zM164 6h3v1h-3zM169 5h4v2h-4zM103 7h8v1h-8zM164 7h9v1h-9zM105 8h6v1h-6zM114 7h4v2h-4zM165 8h7v1h-7zM106 9h12v1h-12zM166 9h4v1h-4zM107 10h10v1h-10zM107 11h9v1h-9zM109 12h6v1h-6zM26 19h3v1h-3zM25 20h5v1h-5zM24 21h7v1h-7zM23 22h9v3h-9zM182 24h3v1h-3zM180 25h5v1h-5zM178 26h7v1h-7zM0 27h5v1h-5zM177 27h4v1h-4zM0 28h8v1h-8zM22 25h10v4h-10zM176 28h4v1h-4zM0 29h9v1h-9zM21 29h11v1h-11zM175 29h4v1h-4zM0 30h10v1h-10zM20 30h12v1h-12zM173 30h5v1h-5zM0 31h11v1h-11zM19 31h13v1h-13zM171 31h5v1h-5zM0 32h12v1h-12zM18 32h14v1h-14zM131 32h3v1h-3zM168 32h7v1h-7zM19 33h13v1h-13zM130 33h6v1h-6zM165 33h7v1h-7zM20 34h12v1h-12zM129 34h9v1h-9zM159 34h10v1h-10zM27 35h3v1h-3zM127 35h12v1h-12zM152 35h13v1h-13zM0 33h13v4h-13zM125 36h32v1h-32zM123 37h26v1h-26zM0 37h12v2h-12zM32 38h5v1h-5zM122 38h23v1h-23zM0 39h10v1h-10zM31 39h7v1h-7zM121 39h23v1h-23zM0 40h8v1h-8zM31 40h8v1h-8zM120 40h22v1h-22zM31 41h9v1h-9zM119 41h22v1h-22zM119 42h20v1h-20zM118 43h19v1h-19zM30 42h10v3h-10zM119 44h17v1h-17zM61 45h6v1h-6zM119 45h16v1h-16zM31 45h10v2h-10zM55 46h14v1h-14zM120 46h14v1h-14zM32 47h39v1h-39zM120 47h13v1h-13zM33 48h39v1h-39zM120 48h12v1h-12zM34 49h22v1h-22zM61 49h11v1h-11zM121 49h11v1h-11zM37 50h16v1h-16zM123 50h8v1h-8zM39 51h11v1h-11zM125 51h6v1h-6zM62 50h10v4h-10zM127 52h4v2h-4zM40 52h9v3h-9zM61 54h11v1h-11zM128 54h4v1h-4zM40 55h12v1h-12zM58 55h13v1h-13zM129 55h4v1h-4zM40 56h31v1h-31zM130 56h4v1h-4zM130 57h5v1h-5zM131 58h5v1h-5zM23 59h1v1h-1zM133 59h4v1h-4zM22 60h4v1h-4zM40 57h30v4h-30zM134 60h4v1h-4zM21 61h7v1h-7zM40 61h16v1h-16zM58 61h12v1h-12zM135 61h4v1h-4zM21 62h8v1h-8zM40 62h14v1h-14zM59 62h11v1h-11zM136 62h4v1h-4zM40 63h12v1h-12zM137 63h3v1h-3zM20 63h10v2h-10zM40 64h11v1h-11zM137 64h4v1h-4zM40 65h9v1h-9zM138 65h3v1h-3zM19 65h12v2h-12zM40 66h7v1h-7zM138 66h4v1h-4zM40 67h6v1h-6zM139 67h3v1h-3zM18 67h14v4h-14zM40 68h5v3h-5zM60 63h10v8h-10zM139 68h4v3h-4z"/>
<path fill="#0C56A0" stroke="#0C56A0" stroke-width="0.15" d="M111 6h2v1h-2zM167 5h2v2h-2zM111 7h3v2h-3zM181 27h4v1h-4zM180 28h5v1h-5zM179 29h6v1h-6zM178 30h7v1h-7zM176 31h9v1h-9zM175 32h10v1h-10zM172 33h13v1h-13zM169 34h16v1h-16zM165 35h20v1h-20zM157 36h15v1h-15zM180 36h5v1h-5zM149 37h17v1h-17zM182 37h3v1h-3zM145 38h18v1h-18zM183 38h2v1h-2zM144 39h12v1h-12zM184 39h1v1h-1zM142 40h11v1h-11zM141 41h9v1h-9zM139 42h10v1h-10zM137 43h11v1h-11zM136 44h12v1h-12zM135 45h13v1h-13zM134 46h14v1h-14zM184 46h1v1h-1zM133 47h15v1h-15zM183 47h2v1h-2zM132 48h16v1h-16zM182 48h3v1h-3zM56 49h5v1h-5zM132 49h17v1h-17zM181 49h4v1h-4zM53 50h9v1h-9zM131 50h19v1h-19zM180 50h5v1h-5zM50 51h12v1h-12zM131 51h20v1h-20zM179 51h6v1h-6zM131 52h21v1h-21zM178 52h7v1h-7zM49 52h13v2h-13zM131 53h31v1h-31zM177 53h8v1h-8zM49 54h12v1h-12zM132 54h32v1h-32zM176 54h9v1h-9zM52 55h6v1h-6zM133 55h34v1h-34zM173 55h12v1h-12zM134 56h51v1h-51zM135 57h50v1h-50zM136 58h49v1h-49zM137 59h48v1h-48zM138 60h47v1h-47zM56 61h2v1h-2zM139 61h46v1h-46zM54 62h5v1h-5zM52 63h8v1h-8zM140 62h45v2h-45zM51 64h9v1h-9zM49 65h11v1h-11zM141 64h44v2h-44zM47 66h13v1h-13zM46 67h14v1h-14zM142 66h43v2h-43zM45 68h15v3h-15zM143 68h42v3h-42z"/>
<path fill="#08306B" stroke="#08306B" stroke-width="0.15" d="M172 36h8v1h-8zM166 37h16v1h-16zM163 38h20v1h-20zM156 39h28v1h-28zM153 40h32v1h-32zM150 41h35v1h-35zM149 42h36v1h-36zM148 43h37v3h-37zM148 46h36v1h-36zM148 47h35v1h-35zM148 48h34v1h-34zM149 49h32v1h-32zM150 50h30v1h-30zM151 51h28v1h-28zM152 52h26v1h-26zM162 53h15v1h-15zM164 54h12v1h-12zM167 55h6v1h-6z"/>
</g>
<clipPath id="c0"><rect x="30.5" y="132.5" width="185.2" height="70.80000000000001"/></clipPath>
<g clip-path="url(#c0)" fill="none" stroke="#000" stroke-width="2.25" stroke-linejoin="round" stroke-linecap="round">
<polyline points="80.6,167.0 82.7,159.4 87.6,154.1 95.3,158.7 98.8,156.6 97.4,152.4 103.0,151.0 104.4,146.1 109.3,142.6 115.6,144.0 117.0,140.5 120.2,139.8 125.8,135.6 133.5,133.1 135.0,132.5 146.5,132.5 146.8,133.1 147.5,138.4 150.3,143.3 153.1,148.9 158.0,153.1 162.2,155.9 158.7,157.3 158.7,160.8 164.3,163.6 170.7,165.7 173.5,163.9 176.3,166.4 175.5,171.2 179.0,174.7 177.6,178.2 173.4,181.0 165.0,182.4 160.8,185.2 158.0,189.4 146.1,188.7 140.5,187.3 135.6,189.1 120.2,188.7 104.4,189.4 103.0,192.2 104.4,197.1 104.8,203.3"/>
<polyline points="80.6,167.0 81.3,167.0 81.0,171.2 76.4,174.0 71.4,175.4 67.2,177.5 69.3,179.6 69.3,185.2 65.8,190.1 65.8,196.4 61.6,198.5 57.4,199.9 56.0,194.3 53.2,192.9 50.4,195.7 48.3,195.0 46.9,198.5 43.4,199.9 39.9,198.5 36.4,196.4 33.6,197.8 31.0,200.6"/>
<polyline points="65.8,196.4 70.0,198.5 74.3,201.3 76.4,203.3"/>
<polyline points="146.1,188.7 143.3,192.2 148.2,197.1 150.3,203.3"/>
<polyline points="158.0,189.4 155.9,192.9 157.3,197.8 162.2,202.0 164.3,203.3"/>
<polyline points="175.5,171.2 179.0,172.6 185.4,169.8 193.8,177.5 196.6,176.8 197.0,167.0 200.1,165.7 202.9,161.5 202.9,157.3 205.7,153.1 211.3,150.7 215.7,150.3"/>
<polyline points="193.8,177.5 193.1,182.4 196.6,188.0 198.0,193.6 195.9,199.2 195.9,203.3"/>
</g>
<rect x="30.5" y="132.5" width="185.2" height="70.80000000000001" fill="none" stroke="#444" stroke-width="0.7"/>
<line x1="30.5" y1="132.5" x2="30.5" y2="203.3" stroke="#222" stroke-width="0.9"/>
<line x1="25.3" y1="132.50" x2="30.5" y2="132.50" stroke="#444" stroke-width="0.7"/>
<line x1="25.3" y1="146.96" x2="30.5" y2="146.96" stroke="#444" stroke-width="0.7"/>
<text x="20.3" y="149.96" text-anchor="end" font-family="Liberation Sans, Arial, Helvetica, sans-serif" font-size="8.2" fill="#111" stroke="#111" stroke-width="0.2">14</text>
<line x1="25.3" y1="161.12" x2="30.5" y2="161.12" stroke="#444" stroke-width="0.7"/>
<text x="20.3" y="164.12" text-anchor="end" font-family="Liberation Sans, Arial, Helvetica, sans-serif" font-size="8.2" fill="#111" stroke="#111" stroke-width="0.2">13</text>
<line x1="25.3" y1="175.28" x2="30.5" y2="175.28" stroke="#444" stroke-width="0.7"/>
<text x="20.3" y="178.28" text-anchor="end" font-family="Liberation Sans, Arial, Helvetica, sans-serif" font-size="8.2" fill="#111" stroke="#111" stroke-width="0.2">12</text>
<line x1="25.3" y1="189.44" x2="30.5" y2="189.44" stroke="#444" stroke-width="0.7"/>
<text x="20.3" y="192.44" text-anchor="end" font-family="Liberation Sans, Arial, Helvetica, sans-serif" font-size="8.2" fill="#111" stroke="#111" stroke-width="0.2">11</text>
<line x1="30.60" y1="203.3" x2="30.60" y2="208.60000000000002" stroke="#444" stroke-width="0.7"/>
<line x1="59.04" y1="203.3" x2="59.04" y2="208.60000000000002" stroke="#444" stroke-width="0.7"/>
<text x="59.04" y="219.9" text-anchor="middle" font-family="Liberation Sans, Arial, Helvetica, sans-serif" font-size="8.2" fill="#111" stroke="#111" stroke-width="0.2">-6</text>
<line x1="87.48" y1="203.3" x2="87.48" y2="208.60000000000002" stroke="#444" stroke-width="0.7"/>
<text x="87.48" y="219.9" text-anchor="middle" font-family="Liberation Sans, Arial, Helvetica, sans-serif" font-size="8.2" fill="#111" stroke="#111" stroke-width="0.2">-4</text>
<line x1="115.92" y1="203.3" x2="115.92" y2="208.60000000000002" stroke="#444" stroke-width="0.7"/>
<text x="115.92" y="219.9" text-anchor="middle" font-family="Liberation Sans, Arial, Helvetica, sans-serif" font-size="8.2" fill="#111" stroke="#111" stroke-width="0.2">-2</text>
<line x1="144.36" y1="203.3" x2="144.36" y2="208.60000000000002" stroke="#444" stroke-width="0.7"/>
<text x="144.36" y="219.9" text-anchor="middle" font-family="Liberation Sans, Arial, Helvetica, sans-serif" font-size="8.2" fill="#111" stroke="#111" stroke-width="0.2">0</text>
<line x1="172.80" y1="203.3" x2="172.80" y2="208.60000000000002" stroke="#444" stroke-width="0.7"/>
<text x="172.80" y="219.9" text-anchor="middle" font-family="Liberation Sans, Arial, Helvetica, sans-serif" font-size="8.2" fill="#111" stroke="#111" stroke-width="0.2">2</text>
<line x1="201.24" y1="203.3" x2="201.24" y2="208.60000000000002" stroke="#444" stroke-width="0.7"/>
<text x="201.24" y="219.9" text-anchor="middle" font-family="Liberation Sans, Arial, Helvetica, sans-serif" font-size="8.2" fill="#111" stroke="#111" stroke-width="0.2">4</text>
<text x="122.40" y="130" text-anchor="middle" font-family="Liberation Sans, Arial, Helvetica, sans-serif" font-size="10.4" fill="#111">ΔRain [%]</text>
<rect x="30.50" y="235.2" width="23.45" height="14.900000000000006" fill="#F7FBFF"/>
<rect x="53.65" y="235.2" width="23.45" height="14.900000000000006" fill="#DBE9F6"/>
<rect x="76.80" y="235.2" width="23.45" height="14.900000000000006" fill="#BBD6EB"/>
<rect x="99.95" y="235.2" width="23.45" height="14.900000000000006" fill="#88BEDC"/>
<rect x="123.10" y="235.2" width="23.45" height="14.900000000000006" fill="#549ECD"/>
<rect x="146.25" y="235.2" width="23.45" height="14.900000000000006" fill="#2A7ABA"/>
<rect x="169.40" y="235.2" width="23.45" height="14.900000000000006" fill="#0C56A0"/>
<rect x="192.55" y="235.2" width="23.45" height="14.900000000000006" fill="#08306B"/>
<rect x="30.5" y="235.2" width="185.2" height="14.900000000000006" fill="none" stroke="#111" stroke-width="0.85"/>
<line x1="30.50" y1="250.1" x2="30.50" y2="253.79999999999998" stroke="#222" stroke-width="0.7"/>
<text x="30.50" y="264.3" text-anchor="middle" font-family="Liberation Sans, Arial, Helvetica, sans-serif" font-size="8.2" fill="#111" stroke="#111" stroke-width="0.2">6</text>
<line x1="53.65" y1="250.1" x2="53.65" y2="253.79999999999998" stroke="#222" stroke-width="0.7"/>
<text x="53.65" y="264.3" text-anchor="middle" font-family="Liberation Sans, Arial, Helvetica, sans-serif" font-size="8.2" fill="#111" stroke="#111" stroke-width="0.2">10</text>
<line x1="76.80" y1="250.1" x2="76.80" y2="253.79999999999998" stroke="#222" stroke-width="0.7"/>
<text x="76.80" y="264.3" text-anchor="middle" font-family="Liberation Sans, Arial, Helvetica, sans-serif" font-size="8.2" fill="#111" stroke="#111" stroke-width="0.2">11</text>
<line x1="99.95" y1="250.1" x2="99.95" y2="253.79999999999998" stroke="#222" stroke-width="0.7"/>
<text x="99.95" y="264.3" text-anchor="middle" font-family="Liberation Sans, Arial, Helvetica, sans-serif" font-size="8.2" fill="#111" stroke="#111" stroke-width="0.2">13</text>
<line x1="123.10" y1="250.1" x2="123.10" y2="253.79999999999998" stroke="#222" stroke-width="0.7"/>
<text x="123.10" y="264.3" text-anchor="middle" font-family="Liberation Sans, Arial, Helvetica, sans-serif" font-size="8.2" fill="#111" stroke="#111" stroke-width="0.2">14</text>
<line x1="146.25" y1="250.1" x2="146.25" y2="253.79999999999998" stroke="#222" stroke-width="0.7"/>
<text x="146.25" y="264.3" text-anchor="middle" font-family="Liberation Sans, Arial, Helvetica, sans-serif" font-size="8.2" fill="#111" stroke="#111" stroke-width="0.2">15</text>
<line x1="169.40" y1="250.1" x2="169.40" y2="253.79999999999998" stroke="#222" stroke-width="0.7"/>
<text x="169.40" y="264.3" text-anchor="middle" font-family="Liberation Sans, Arial, Helvetica, sans-serif" font-size="8.2" fill="#111" stroke="#111" stroke-width="0.2">16</text>
<line x1="192.55" y1="250.1" x2="192.55" y2="253.79999999999998" stroke="#222" stroke-width="0.7"/>
<text x="192.55" y="264.3" text-anchor="middle" font-family="Liberation Sans, Arial, Helvetica, sans-serif" font-size="8.2" fill="#111" stroke="#111" stroke-width="0.2">18</text>
<line x1="215.70" y1="250.1" x2="215.70" y2="253.79999999999998" stroke="#222" stroke-width="0.7"/>
<text x="215.70" y="264.3" text-anchor="middle" font-family="Liberation Sans, Arial, Helvetica, sans-serif" font-size="8.2" fill="#111" stroke="#111" stroke-width="0.2">22</text>
<g shape-rendering="crispEdges" transform="translate(261.2,132.5) scale(1.00108,0.99718)">
<rect x="0" y="0" width="185" height="71" fill="#FFFFCC"/>
<path fill="#FFEA9A" stroke="#FFEA9A" stroke-width="0.15" d="M172 0h13v3h-13zM171 3h14v1h-14zM169 4h16v1h-16zM166 5h19v1h-19zM164 6h21v1h-21zM163 7h22v1h-22zM161 8h24v1h-24zM159 9h26v1h-26zM156 10h29v1h-29zM154 11h31v1h-31zM152 12h33v1h-33zM143 13h42v2h-42zM142 15h35v1h-35zM142 16h32v1h-32zM142 17h31v1h-31zM142 18h30v1h-30zM141 19h30v1h-30zM140 20h30v1h-30zM139 21h30v1h-30zM138 22h30v1h-30zM138 23h29v1h-29zM138 24h27v1h-27zM138 25h24v1h-24zM138 26h22v1h-22zM138 27h20v2h-20zM139 29h19v1h-19zM140 30h18v1h-18zM141 31h17v1h-17zM142 32h16v1h-16zM143 33h15v1h-15zM144 34h16v1h-16zM145 35h17v1h-17zM146 36h18v1h-18zM147 37h18v1h-18zM148 38h17v1h-17zM149 39h16v1h-16zM150 40h15v1h-15zM151 41h14v1h-14zM152 42h13v1h-13zM122 43h5v1h-5zM153 43h12v1h-12zM121 44h8v1h-8zM154 44h11v1h-11zM118 45h12v1h-12zM155 45h10v1h-10zM110 46h21v1h-21zM156 46h9v1h-9zM108 47h24v1h-24zM157 47h8v1h-8zM103 48h29v1h-29zM158 48h7v1h-7zM101 49h31v1h-31zM159 49h6v1h-6zM98 50h34v1h-34zM160 50h5v1h-5zM95 51h37v1h-37zM161 51h5v1h-5zM94 52h38v1h-38zM162 52h4v2h-4zM92 53h40v2h-40zM163 54h3v1h-3zM91 55h40v1h-40zM91 56h9v1h-9zM110 56h7v1h-7zM123 56h8v1h-8zM163 55h4v2h-4zM90 57h9v1h-9zM111 57h5v1h-5zM124 57h6v1h-6zM90 58h8v1h-8zM112 58h4v1h-4zM89 59h10v1h-10zM113 59h3v1h-3zM88 60h11v1h-11zM87 61h12v1h-12zM113 60h4v2h-4zM86 62h14v2h-14zM114 62h4v2h-4zM125 58h5v6h-5zM86 64h15v1h-15zM126 64h5v1h-5zM87 65h5v1h-5zM95 65h7v1h-7zM114 64h5v2h-5zM127 65h4v1h-4zM88 66h4v1h-4zM96 66h8v1h-8zM115 66h4v1h-4zM96 67h10v1h-10zM128 66h4v2h-4zM88 67h3v2h-3zM89 69h2v2h-2zM97 68h10v3h-10zM115 67h5v4h-5zM129 68h4v3h-4zM164 57h4v14h-4z"/>
<path fill="#FECE6A" stroke="#FECE6A" stroke-width="0.15" d="M113 0h59v3h-59zM114 3h57v1h-57zM114 4h55v1h-55zM115 5h51v1h-51zM116 6h48v1h-48zM117 7h46v1h-46zM117 8h44v1h-44zM116 9h43v1h-43zM116 10h40v1h-40zM115 11h39v1h-39zM115 12h37v1h-37zM115 13h28v2h-28zM115 15h27v4h-27zM115 19h26v1h-26zM115 20h25v1h-25zM115 21h24v1h-24zM115 22h23v2h-23zM114 24h24v3h-24zM113 27h25v2h-25zM113 29h26v1h-26zM112 30h28v1h-28zM112 31h29v1h-29zM112 32h30v1h-30zM112 33h31v1h-31zM110 34h34v1h-34zM103 35h42v1h-42zM95 36h51v1h-51zM93 37h54v1h-54zM92 38h56v1h-56zM90 39h59v1h-59zM87 40h63v1h-63zM76 41h75v1h-75zM75 42h77v1h-77zM75 43h47v1h-47zM127 43h26v1h-26zM74 44h47v1h-47zM129 44h25v1h-25zM73 45h45v1h-45zM130 45h25v1h-25zM71 46h39v1h-39zM131 46h25v1h-25zM71 47h37v1h-37zM132 47h25v1h-25zM70 48h33v1h-33zM132 48h26v1h-26zM70 49h31v1h-31zM132 49h27v1h-27zM70 50h28v1h-28zM132 50h28v1h-28zM70 51h25v1h-25zM132 51h29v1h-29zM70 52h24v1h-24zM132 52h30v2h-30zM70 53h22v2h-22zM132 54h31v1h-31zM70 55h21v2h-21zM100 56h10v1h-10zM131 55h32v2h-32zM99 57h12v1h-12zM70 57h20v2h-20zM98 58h14v1h-14zM70 59h19v1h-19zM70 60h18v1h-18zM70 61h17v1h-17zM99 59h14v3h-14zM100 62h14v2h-14zM130 57h34v7h-34zM70 62h16v3h-16zM101 64h13v1h-13zM70 65h17v1h-17zM102 65h12v1h-12zM131 64h33v2h-33zM104 66h11v1h-11zM106 67h9v1h-9zM132 66h32v2h-32zM70 66h18v3h-18zM70 69h19v2h-19zM107 68h8v3h-8zM133 68h31v3h-31z"/>
<path fill="#FEA245" stroke="#FEA245" stroke-width="0.15" d="M95 0h18v3h-18zM95 3h19v1h-19zM96 4h18v1h-18zM96 5h19v1h-19zM97 6h19v1h-19zM97 7h20v1h-20zM98 8h19v1h-19zM99 9h17v1h-17zM100 10h16v1h-16zM101 11h14v1h-14zM102 12h13v2h-13zM101 14h14v2h-14zM100 16h15v3h-15zM99 19h16v2h-16zM98 21h17v2h-17zM97 23h18v1h-18zM96 24h18v1h-18zM95 25h19v1h-19zM94 26h20v1h-20zM92 27h21v1h-21zM82 28h31v1h-31zM81 29h32v1h-32zM80 30h32v1h-32zM79 31h33v1h-33zM78 32h34v1h-34zM77 33h35v1h-35zM75 34h35v1h-35zM70 35h33v1h-33zM67 36h28v1h-28zM66 37h27v1h-27zM65 38h27v1h-27zM64 39h26v1h-26zM63 40h24v1h-24zM61 41h15v1h-15zM61 42h14v1h-14zM60 43h15v1h-15zM60 44h14v1h-14zM60 45h13v1h-13zM60 46h11v2h-11zM60 48h10v6h-10zM61 54h9v1h-9zM62 55h8v1h-8zM64 56h6v2h-6zM65 58h5v13h-5z"/>
<path fill="#FC6932" stroke="#FC6932" stroke-width="0.15" d="M85 0h10v4h-10zM85 4h11v2h-11zM85 6h12v2h-12zM85 8h13v1h-13zM85 9h14v1h-14zM85 10h15v1h-15zM85 11h16v1h-16zM85 12h17v2h-17zM85 14h16v2h-16zM85 16h15v2h-15zM84 18h16v1h-16zM84 19h15v1h-15zM78 20h21v1h-21zM76 21h22v1h-22zM75 22h23v1h-23zM75 23h22v1h-22zM74 24h22v1h-22zM68 25h27v1h-27zM67 26h27v1h-27zM66 27h26v1h-26zM65 28h17v1h-17zM65 29h16v1h-16zM64 30h16v1h-16zM64 31h15v1h-15zM63 32h15v1h-15zM62 33h15v1h-15zM60 34h15v1h-15zM58 35h12v1h-12zM56 36h11v1h-11zM56 37h10v1h-10zM0 38h3v1h-3zM55 38h10v1h-10zM0 39h5v1h-5zM54 39h10v1h-10zM0 40h7v1h-7zM53 40h10v1h-10zM0 41h10v1h-10zM52 41h9v1h-9zM0 42h12v1h-12zM51 42h10v1h-10zM0 43h13v1h-13zM0 44h14v1h-14zM0 45h17v1h-17zM0 46h19v1h-19zM0 47h20v2h-20zM50 43h10v6h-10zM0 49h21v1h-21zM49 49h11v1h-11zM0 50h22v1h-22zM48 50h12v1h-12zM0 51h24v1h-24zM46 51h14v2h-14zM0 52h25v2h-25zM45 53h15v1h-15zM0 54h26v1h-26zM45 54h16v1h-16zM0 55h27v1h-27zM45 55h17v1h-17zM0 56h29v2h-29zM45 56h19v2h-19zM0 58h30v1h-30zM45 58h20v1h-20zM0 59h31v1h-31zM44 59h21v1h-21zM0 60h32v1h-32zM43 60h22v1h-22zM0 61h65v5h-65zM13 66h52v1h-52zM14 67h51v1h-51zM15 68h50v3h-50z"/>
<path fill="#EA2920" stroke="#EA2920" stroke-width="0.15" d="M80 0h5v8h-5zM79 8h6v1h-6zM78 9h7v1h-7zM77 10h8v1h-8zM76 11h9v1h-9zM75 12h10v1h-10zM74 13h11v2h-11zM72 15h13v1h-13zM71 16h14v1h-14zM70 17h15v1h-15zM70 18h14v1h-14zM69 19h15v1h-15zM67 20h11v1h-11zM66 21h10v1h-10zM65 22h10v1h-10zM64 23h11v1h-11zM63 24h11v1h-11zM62 25h6v1h-6zM57 26h10v1h-10zM56 27h10v1h-10zM0 28h3v1h-3zM0 29h5v1h-5zM55 28h10v2h-10zM0 30h12v1h-12zM0 31h15v1h-15zM54 30h10v2h-10zM0 32h17v1h-17zM53 32h10v1h-10zM0 33h18v1h-18zM52 33h10v1h-10zM0 34h20v1h-20zM51 34h9v1h-9zM0 35h27v1h-27zM51 35h7v1h-7zM0 36h35v1h-35zM0 37h37v1h-37zM50 36h6v2h-6zM3 38h35v1h-35zM49 38h6v1h-6zM5 39h35v1h-35zM48 39h6v1h-6zM7 40h36v1h-36zM46 40h7v1h-7zM10 41h42v1h-42zM12 42h39v1h-39zM13 43h37v1h-37zM14 44h36v1h-36zM17 45h33v1h-33zM19 46h31v1h-31zM20 47h30v2h-30zM21 49h28v1h-28zM22 50h26v1h-26zM24 51h22v1h-22zM25 52h21v1h-21zM25 53h20v1h-20zM26 54h19v1h-19zM27 55h18v1h-18zM29 56h16v2h-16zM30 58h15v1h-15zM31 59h13v1h-13zM32 60h11v1h-11zM0 66h13v1h-13zM0 67h14v1h-14zM0 68h15v3h-15z"/>
<path fill="#C20425" stroke="#C20425" stroke-width="0.15" d="M18 0h24v3h-24zM75 0h5v3h-5zM74 3h6v1h-6zM17 3h24v2h-24zM73 4h7v1h-7zM17 5h23v1h-23zM72 5h8v1h-8zM17 6h22v1h-22zM71 6h9v1h-9zM17 7h21v1h-21zM70 7h10v1h-10zM17 8h20v1h-20zM69 8h10v1h-10zM16 9h20v1h-20zM68 9h10v1h-10zM16 10h19v1h-19zM66 10h11v1h-11zM15 11h19v1h-19zM64 11h12v1h-12zM15 12h18v1h-18zM63 12h12v1h-12zM14 13h19v1h-19zM13 14h21v1h-21zM63 13h11v2h-11zM11 15h23v1h-23zM62 15h10v1h-10zM9 16h26v1h-26zM62 16h9v1h-9zM7 17h28v1h-28zM0 18h35v1h-35zM62 17h8v2h-8zM61 19h8v1h-8zM0 19h36v2h-36zM60 20h7v1h-7zM59 21h7v1h-7zM0 21h37v2h-37zM57 22h8v1h-8zM0 23h38v1h-38zM55 23h9v1h-9zM0 24h40v1h-40zM54 24h9v1h-9zM0 25h62v1h-62zM0 26h57v1h-57zM0 27h56v1h-56zM3 28h52v1h-52zM5 29h50v1h-50zM12 30h42v1h-42zM15 31h39v1h-39zM17 32h36v1h-36zM18 33h34v1h-34zM20 34h31v1h-31zM27 35h24v1h-24zM35 36h15v1h-15zM37 37h13v1h-13zM38 38h11v1h-11zM40 39h8v1h-8zM43 40h3v1h-3z"/>
<path fill="#800026" stroke="#800026" stroke-width="0.15" d="M0 0h18v3h-18zM42 0h33v3h-33zM41 3h33v1h-33zM41 4h32v1h-32zM40 5h32v1h-32zM39 6h32v1h-32zM38 7h32v1h-32zM0 3h17v6h-17zM37 8h32v1h-32zM36 9h32v1h-32zM0 9h16v2h-16zM35 10h31v1h-31zM34 11h30v1h-30zM0 11h15v2h-15zM0 13h14v1h-14zM33 12h30v2h-30zM0 14h13v1h-13zM34 14h29v1h-29zM0 15h11v1h-11zM34 15h28v1h-28zM0 16h9v1h-9zM0 17h7v1h-7zM35 16h27v3h-27zM36 19h25v1h-25zM36 20h24v1h-24zM37 21h22v1h-22zM37 22h20v1h-20zM38 23h17v1h-17zM40 24h14v1h-14z"/>
</g>
<clipPath id="c1"><rect x="261.2" y="132.5" width="185.2" height="70.80000000000001"/></clipPath>
<g clip-path="url(#c1)" fill="none" stroke="#000" stroke-width="2.25" stroke-linejoin="round" stroke-linecap="round">
<polyline points="311.3,167.0 313.4,159.4 318.3,154.1 326.0,158.7 329.5,156.6 328.1,152.4 333.7,151.0 335.1,146.1 340.0,142.6 346.3,144.0 347.7,140.5 350.9,139.8 356.5,135.6 364.2,133.1 365.7,132.5 377.2,132.5 377.5,133.1 378.2,138.4 381.0,143.3 383.8,148.9 388.7,153.1 392.9,155.9 389.4,157.3 389.4,160.8 395.0,163.6 401.4,165.7 404.2,163.9 407.0,166.4 406.2,171.2 409.7,174.7 408.3,178.2 404.1,181.0 395.7,182.4 391.5,185.2 388.7,189.4 376.8,188.7 371.2,187.3 366.3,189.1 350.9,188.7 335.1,189.4 333.7,192.2 335.1,197.1 335.5,203.3"/>
<polyline points="311.3,167.0 312.0,167.0 311.7,171.2 307.1,174.0 302.1,175.4 297.9,177.5 300.0,179.6 300.0,185.2 296.5,190.1 296.5,196.4 292.3,198.5 288.1,199.9 286.7,194.3 283.9,192.9 281.1,195.7 279.0,195.0 277.6,198.5 274.1,199.9 270.6,198.5 267.1,196.4 264.3,197.8 261.7,200.6"/>
<polyline points="296.5,196.4 300.7,198.5 305.0,201.3 307.1,203.3"/>
<polyline points="376.8,188.7 374.0,192.2 378.9,197.1 381.0,203.3"/>
<polyline points="388.7,189.4 386.6,192.9 388.0,197.8 392.9,202.0 395.0,203.3"/>
<polyline points="406.2,171.2 409.7,172.6 416.1,169.8 424.5,177.5 427.3,176.8 427.7,167.0 430.8,165.7 433.6,161.5 433.6,157.3 436.4,153.1 442.0,150.7 446.4,150.3"/>
<polyline points="424.5,177.5 423.8,182.4 427.3,188.0 428.7,193.6 426.6,199.2 426.6,203.3"/>
</g>
<rect x="261.2" y="132.5" width="185.2" height="70.80000000000001" fill="none" stroke="#444" stroke-width="0.7"/>
<line x1="261.2" y1="132.5" x2="261.2" y2="203.3" stroke="#222" stroke-width="0.9"/>
<line x1="256.0" y1="132.50" x2="261.2" y2="132.50" stroke="#444" stroke-width="0.7"/>
<line x1="256.0" y1="146.96" x2="261.2" y2="146.96" stroke="#444" stroke-width="0.7"/>
<text x="251.0" y="149.96" text-anchor="end" font-family="Liberation Sans, Arial, Helvetica, sans-serif" font-size="8.2" fill="#111" stroke="#111" stroke-width="0.2">14</text>
<line x1="256.0" y1="161.12" x2="261.2" y2="161.12" stroke="#444" stroke-width="0.7"/>
<text x="251.0" y="164.12" text-anchor="end" font-family="Liberation Sans, Arial, Helvetica, sans-serif" font-size="8.2" fill="#111" stroke="#111" stroke-width="0.2">13</text>
<line x1="256.0" y1="175.28" x2="261.2" y2="175.28" stroke="#444" stroke-width="0.7"/>
<text x="251.0" y="178.28" text-anchor="end" font-family="Liberation Sans, Arial, Helvetica, sans-serif" font-size="8.2" fill="#111" stroke="#111" stroke-width="0.2">12</text>
<line x1="256.0" y1="189.44" x2="261.2" y2="189.44" stroke="#444" stroke-width="0.7"/>
<text x="251.0" y="192.44" text-anchor="end" font-family="Liberation Sans, Arial, Helvetica, sans-serif" font-size="8.2" fill="#111" stroke="#111" stroke-width="0.2">11</text>
<line x1="261.30" y1="203.3" x2="261.30" y2="208.60000000000002" stroke="#444" stroke-width="0.7"/>
<line x1="289.74" y1="203.3" x2="289.74" y2="208.60000000000002" stroke="#444" stroke-width="0.7"/>
<text x="289.74" y="219.9" text-anchor="middle" font-family="Liberation Sans, Arial, Helvetica, sans-serif" font-size="8.2" fill="#111" stroke="#111" stroke-width="0.2">-6</text>
<line x1="318.18" y1="203.3" x2="318.18" y2="208.60000000000002" stroke="#444" stroke-width="0.7"/>
<text x="318.18" y="219.9" text-anchor="middle" font-family="Liberation Sans, Arial, Helvetica, sans-serif" font-size="8.2" fill="#111" stroke="#111" stroke-width="0.2">-4</text>
<line x1="346.62" y1="203.3" x2="346.62" y2="208.60000000000002" stroke="#444" stroke-width="0.7"/>
<text x="346.62" y="219.9" text-anchor="middle" font-family="Liberation Sans, Arial, Helvetica, sans-serif" font-size="8.2" fill="#111" stroke="#111" stroke-width="0.2">-2</text>
<line x1="375.06" y1="203.3" x2="375.06" y2="208.60000000000002" stroke="#444" stroke-width="0.7"/>
<text x="375.06" y="219.9" text-anchor="middle" font-family="Liberation Sans, Arial, Helvetica, sans-serif" font-size="8.2" fill="#111" stroke="#111" stroke-width="0.2">0</text>
<line x1="403.50" y1="203.3" x2="403.50" y2="208.60000000000002" stroke="#444" stroke-width="0.7"/>
<text x="403.50" y="219.9" text-anchor="middle" font-family="Liberation Sans, Arial, Helvetica, sans-serif" font-size="8.2" fill="#111" stroke="#111" stroke-width="0.2">2</text>
<line x1="431.94" y1="203.3" x2="431.94" y2="208.60000000000002" stroke="#444" stroke-width="0.7"/>
<text x="431.94" y="219.9" text-anchor="middle" font-family="Liberation Sans, Arial, Helvetica, sans-serif" font-size="8.2" fill="#111" stroke="#111" stroke-width="0.2">4</text>
<text x="354.00" y="130" text-anchor="middle" font-family="Liberation Sans, Arial, Helvetica, sans-serif" font-size="10.4" fill="#111">ΔTmax [%]</text>
<rect x="261.20" y="235.2" width="23.45" height="14.900000000000006" fill="#FFFFCC"/>
<rect x="284.35" y="235.2" width="23.45" height="14.900000000000006" fill="#FFEA9A"/>
<rect x="307.50" y="235.2" width="23.45" height="14.900000000000006" fill="#FECE6A"/>
<rect x="330.65" y="235.2" width="23.45" height="14.900000000000006" fill="#FEA245"/>
<rect x="353.80" y="235.2" width="23.45" height="14.900000000000006" fill="#FC6932"/>
<rect x="376.95" y="235.2" width="23.45" height="14.900000000000006" fill="#EA2920"/>
<rect x="400.10" y="235.2" width="23.45" height="14.900000000000006" fill="#C20425"/>
<rect x="423.25" y="235.2" width="23.45" height="14.900000000000006" fill="#800026"/>
<rect x="261.2" y="235.2" width="185.2" height="14.900000000000006" fill="none" stroke="#111" stroke-width="0.85"/>
<line x1="261.20" y1="250.1" x2="261.20" y2="253.79999999999998" stroke="#222" stroke-width="0.7"/>
<text x="261.20" y="264.3" text-anchor="middle" font-family="Liberation Sans, Arial, Helvetica, sans-serif" font-size="8.2" fill="#111" stroke="#111" stroke-width="0.2">3.35</text>
<line x1="284.35" y1="250.1" x2="284.35" y2="253.79999999999998" stroke="#222" stroke-width="0.7"/>
<text x="284.35" y="264.3" text-anchor="middle" font-family="Liberation Sans, Arial, Helvetica, sans-serif" font-size="8.2" fill="#111" stroke="#111" stroke-width="0.2">3.53</text>
<line x1="307.50" y1="250.1" x2="307.50" y2="253.79999999999998" stroke="#222" stroke-width="0.7"/>
<text x="307.50" y="264.3" text-anchor="middle" font-family="Liberation Sans, Arial, Helvetica, sans-serif" font-size="8.2" fill="#111" stroke="#111" stroke-width="0.2">3.63</text>
<line x1="330.65" y1="250.1" x2="330.65" y2="253.79999999999998" stroke="#222" stroke-width="0.7"/>
<text x="330.65" y="264.3" text-anchor="middle" font-family="Liberation Sans, Arial, Helvetica, sans-serif" font-size="8.2" fill="#111" stroke="#111" stroke-width="0.2">3.73</text>
<line x1="353.80" y1="250.1" x2="353.80" y2="253.79999999999998" stroke="#222" stroke-width="0.7"/>
<text x="353.80" y="264.3" text-anchor="middle" font-family="Liberation Sans, Arial, Helvetica, sans-serif" font-size="8.2" fill="#111" stroke="#111" stroke-width="0.2">3.83</text>
<line x1="376.95" y1="250.1" x2="376.95" y2="253.79999999999998" stroke="#222" stroke-width="0.7"/>
<text x="376.95" y="264.3" text-anchor="middle" font-family="Liberation Sans, Arial, Helvetica, sans-serif" font-size="8.2" fill="#111" stroke="#111" stroke-width="0.2">3.92</text>
<line x1="400.10" y1="250.1" x2="400.10" y2="253.79999999999998" stroke="#222" stroke-width="0.7"/>
<text x="400.10" y="264.3" text-anchor="middle" font-family="Liberation Sans, Arial, Helvetica, sans-serif" font-size="8.2" fill="#111" stroke="#111" stroke-width="0.2">4.01</text>
<line x1="423.25" y1="250.1" x2="423.25" y2="253.79999999999998" stroke="#222" stroke-width="0.7"/>
<text x="423.25" y="264.3" text-anchor="middle" font-family="Liberation Sans, Arial, Helvetica, sans-serif" font-size="8.2" fill="#111" stroke="#111" stroke-width="0.2">4.14</text>
<line x1="446.40" y1="250.1" x2="446.40" y2="253.79999999999998" stroke="#222" stroke-width="0.7"/>
<text x="446.40" y="264.3" text-anchor="middle" font-family="Liberation Sans, Arial, Helvetica, sans-serif" font-size="8.2" fill="#111" stroke="#111" stroke-width="0.2">4.33</text>
<g shape-rendering="crispEdges" transform="translate(492.3,132.5) scale(1.00108,0.99718)">
<rect x="0" y="0" width="185" height="71" fill="#FFFFCC"/>
<path fill="#FFEA9A" stroke="#FFEA9A" stroke-width="0.15" d="M181 10h4v1h-4zM179 11h6v1h-6zM178 12h7v11h-7zM179 23h6v1h-6zM180 24h5v1h-5zM160 31h5v1h-5zM158 32h8v1h-8zM157 33h10v1h-10zM155 34h11v1h-11zM150 35h16v1h-16zM145 36h21v1h-21zM143 37h22v1h-22zM127 38h38v1h-38zM125 39h41v1h-41zM122 40h44v1h-44zM100 41h67v1h-67zM98 42h70v1h-70zM53 43h10v1h-10zM93 43h85v1h-85zM51 44h13v1h-13zM91 44h88v1h-88zM50 45h17v1h-17zM90 45h92v1h-92zM49 46h31v1h-31zM89 46h36v1h-36zM135 46h50v1h-50zM48 47h34v1h-34zM88 47h35v1h-35zM43 48h75v1h-75zM41 49h75v1h-75zM136 47h49v3h-49zM40 50h73v1h-73zM135 50h50v1h-50zM39 51h56v1h-56zM134 51h51v1h-51zM38 52h55v1h-55zM133 52h52v1h-52zM37 53h12v1h-12zM57 53h11v1h-11zM81 53h8v1h-8zM132 53h53v1h-53zM37 54h9v1h-9zM59 54h7v1h-7zM132 54h15v1h-15zM148 54h37v1h-37zM36 55h9v1h-9zM60 55h5v1h-5zM36 56h8v1h-8zM61 56h3v1h-3zM131 55h15v2h-15zM149 55h36v2h-36zM35 57h8v1h-8zM35 58h7v2h-7zM130 57h15v3h-15zM150 57h35v3h-35zM35 60h6v2h-6zM130 60h16v2h-16zM149 60h36v2h-36zM35 62h5v2h-5zM35 64h6v1h-6zM36 65h5v1h-5zM130 62h55v4h-55zM36 66h6v1h-6zM37 67h5v1h-5zM37 68h6v3h-6zM129 66h56v5h-56z"/>
<path fill="#FECE6A" stroke="#FECE6A" stroke-width="0.15" d="M164 0h21v2h-21zM162 2h23v1h-23zM161 3h24v1h-24zM159 4h26v1h-26zM156 5h29v1h-29zM154 6h31v1h-31zM153 7h32v1h-32zM151 8h34v1h-34zM149 9h36v1h-36zM146 10h35v1h-35zM144 11h35v1h-35zM143 12h35v1h-35zM142 13h36v1h-36zM141 14h37v1h-37zM140 15h38v1h-38zM139 16h39v1h-39zM138 17h40v1h-40zM137 18h41v1h-41zM136 19h42v1h-42zM135 20h43v1h-43zM134 21h44v1h-44zM133 22h45v1h-45zM132 23h47v1h-47zM131 24h49v1h-49zM130 25h55v1h-55zM129 26h56v1h-56zM128 27h57v1h-57zM127 28h58v1h-58zM125 29h60v1h-60zM108 30h77v1h-77zM105 31h55v1h-55zM165 31h20v1h-20zM103 32h55v1h-55zM166 32h19v1h-19zM93 33h64v1h-64zM167 33h18v1h-18zM90 34h65v1h-65zM85 35h65v1h-65zM55 36h90v1h-90zM166 34h19v3h-19zM53 37h90v1h-90zM51 38h76v1h-76zM165 37h20v2h-20zM50 39h75v1h-75zM47 40h75v1h-75zM166 39h19v2h-19zM45 41h55v1h-55zM167 41h18v1h-18zM43 42h55v1h-55zM168 42h17v1h-17zM37 43h16v1h-16zM63 43h30v1h-30zM178 43h7v1h-7zM36 44h15v1h-15zM64 44h27v1h-27zM179 44h6v1h-6zM35 45h15v1h-15zM67 45h23v1h-23zM182 45h3v1h-3zM34 46h15v1h-15zM80 46h9v1h-9zM33 47h15v1h-15zM82 47h6v1h-6zM30 48h13v1h-13zM28 49h13v1h-13zM28 50h12v1h-12zM28 51h11v1h-11zM27 52h11v1h-11zM27 53h10v2h-10zM147 54h1v1h-1zM26 55h10v2h-10zM146 55h3v2h-3zM25 57h10v3h-10zM145 57h5v3h-5zM24 60h11v2h-11zM146 60h3v2h-3zM23 62h12v2h-12zM24 64h11v1h-11zM25 65h11v1h-11zM26 66h10v1h-10zM26 67h11v1h-11zM27 68h10v3h-10z"/>
<path fill="#FEA245" stroke="#FEA245" stroke-width="0.15" d="M133 0h31v2h-31zM133 2h29v1h-29zM133 3h28v1h-28zM133 4h26v1h-26zM133 5h23v1h-23zM133 6h21v1h-21zM132 7h21v1h-21zM132 8h19v1h-19zM131 9h18v1h-18zM131 10h15v1h-15zM130 11h14v1h-14zM130 12h13v1h-13zM130 13h12v1h-12zM129 14h12v1h-12zM129 15h11v1h-11zM128 16h11v1h-11zM128 17h10v1h-10zM127 18h10v1h-10zM126 19h10v1h-10zM125 20h10v1h-10zM124 21h10v1h-10zM123 22h10v1h-10zM122 23h10v1h-10zM120 24h11v1h-11zM97 25h33v1h-33zM84 26h7v1h-7zM94 26h35v1h-35zM83 27h45v1h-45zM72 28h55v1h-55zM70 29h55v1h-55zM58 30h50v1h-50zM52 31h53v1h-53zM49 32h54v1h-54zM47 33h46v1h-46zM45 34h45v1h-45zM40 35h45v1h-45zM35 36h20v1h-20zM33 37h20v1h-20zM32 38h19v1h-19zM30 39h20v1h-20zM28 40h19v1h-19zM25 41h20v1h-20zM23 42h20v1h-20zM18 43h19v1h-19zM16 44h20v1h-20zM15 45h20v1h-20zM14 46h20v1h-20zM13 47h20v1h-20zM12 48h18v1h-18zM11 49h17v1h-17zM10 50h18v1h-18zM9 51h19v1h-19zM8 52h19v3h-19zM8 55h18v1h-18zM7 56h19v1h-19zM7 57h18v3h-18zM6 60h18v2h-18zM5 62h18v2h-18zM5 64h19v1h-19zM6 65h19v1h-19zM6 66h20v1h-20zM7 67h19v1h-19zM7 68h20v3h-20z"/>
<path fill="#FC6932" stroke="#FC6932" stroke-width="0.15" d="M127 0h6v3h-6zM126 3h7v2h-7zM125 5h8v1h-8zM124 6h9v1h-9zM123 7h9v1h-9zM121 8h11v1h-11zM119 9h12v1h-12zM116 10h15v1h-15zM114 11h16v1h-16zM112 12h18v1h-18zM107 13h23v1h-23zM105 14h24v1h-24zM97 15h32v1h-32zM94 16h34v1h-34zM92 17h36v1h-36zM82 18h45v1h-45zM80 19h46v1h-46zM72 20h53v1h-53zM69 21h55v1h-55zM68 22h55v1h-55zM67 23h55v1h-55zM65 24h55v1h-55zM22 25h6v1h-6zM57 25h40v1h-40zM19 26h12v1h-12zM54 26h30v1h-30zM91 26h3v1h-3zM18 27h14v1h-14zM49 27h34v1h-34zM17 28h55v1h-55zM16 29h54v1h-54zM16 30h42v1h-42zM15 31h37v1h-37zM15 32h34v1h-34zM0 33h3v1h-3zM15 33h32v1h-32zM0 34h5v1h-5zM14 34h31v1h-31zM0 35h40v1h-40zM0 36h35v1h-35zM0 37h33v1h-33zM0 38h32v1h-32zM0 39h30v1h-30zM0 40h28v1h-28zM0 41h25v1h-25zM0 42h23v1h-23zM0 43h18v1h-18zM0 44h16v1h-16zM0 45h15v1h-15zM0 46h14v1h-14zM0 47h13v1h-13zM0 48h12v1h-12zM0 49h11v1h-11zM0 50h10v1h-10zM0 51h9v1h-9zM0 52h8v4h-8zM0 56h7v4h-7zM0 60h6v2h-6zM0 62h5v3h-5zM0 65h6v2h-6zM0 67h7v4h-7z"/>
<path fill="#EA2920" stroke="#EA2920" stroke-width="0.15" d="M82 0h45v3h-45zM81 3h45v1h-45zM79 4h47v1h-47zM76 5h49v1h-49zM74 6h50v1h-50zM73 7h50v1h-50zM72 8h49v1h-49zM71 9h48v1h-48zM70 10h46v1h-46zM69 11h45v1h-45zM68 12h44v1h-44zM67 13h40v1h-40zM66 14h39v1h-39zM65 15h32v1h-32zM64 16h30v1h-30zM63 17h29v1h-29zM22 18h1v1h-1zM42 18h6v1h-6zM62 18h20v1h-20zM20 19h5v1h-5zM40 19h10v1h-10zM60 19h20v1h-20zM17 20h55v1h-55zM14 21h55v1h-55zM13 22h55v1h-55zM12 23h55v1h-55zM10 24h55v1h-55zM0 25h22v1h-22zM28 25h29v1h-29zM0 26h19v1h-19zM31 26h23v1h-23zM0 27h18v1h-18zM32 27h17v1h-17zM0 28h17v1h-17zM0 29h16v2h-16zM0 31h15v2h-15zM3 33h12v1h-12zM5 34h9v1h-9z"/>
<path fill="#C20425" stroke="#C20425" stroke-width="0.15" d="M25 0h57v3h-57zM25 3h56v1h-56zM24 4h55v1h-55zM24 5h52v1h-52zM23 6h51v1h-51zM23 7h50v1h-50zM22 8h50v1h-50zM21 9h50v1h-50zM20 10h50v1h-50zM19 11h50v1h-50zM18 12h50v1h-50zM16 13h51v1h-51zM15 14h51v1h-51zM0 15h65v1h-65zM0 16h64v1h-64zM0 17h63v1h-63zM0 18h22v1h-22zM23 18h19v1h-19zM48 18h14v1h-14zM0 19h20v1h-20zM25 19h15v1h-15zM50 19h10v1h-10zM0 20h17v1h-17zM0 21h14v1h-14zM0 22h13v1h-13zM0 23h12v1h-12zM0 24h10v1h-10z"/>
<path fill="#800026" stroke="#800026" stroke-width="0.15" d="M0 0h25v4h-25zM0 4h24v2h-24zM0 6h23v2h-23zM0 8h22v1h-22zM0 9h21v1h-21zM0 10h20v1h-20zM0 11h19v1h-19zM0 12h18v1h-18zM0 13h16v1h-16zM0 14h15v1h-15z"/>
</g>
<clipPath id="c2"><rect x="492.3" y="132.5" width="185.2" height="70.80000000000001"/></clipPath>
<g clip-path="url(#c2)" fill="none" stroke="#000" stroke-width="2.25" stroke-linejoin="round" stroke-linecap="round">
<polyline points="542.4,167.0 544.5,159.4 549.4,154.1 557.1,158.7 560.6,156.6 559.2,152.4 564.8,151.0 566.2,146.1 571.1,142.6 577.4,144.0 578.8,140.5 582.0,139.8 587.6,135.6 595.3,133.1 596.8,132.5 608.3,132.5 608.6,133.1 609.3,138.4 612.1,143.3 614.9,148.9 619.8,153.1 624.0,155.9 620.5,157.3 620.5,160.8 626.1,163.6 632.5,165.7 635.3,163.9 638.1,166.4 637.3,171.2 640.8,174.7 639.4,178.2 635.2,181.0 626.8,182.4 622.6,185.2 619.8,189.4 607.9,188.7 602.3,187.3 597.4,189.1 582.0,188.7 566.2,189.4 564.8,192.2 566.2,197.1 566.6,203.3"/>
<polyline points="542.4,167.0 543.1,167.0 542.8,171.2 538.2,174.0 533.2,175.4 529.0,177.5 531.1,179.6 531.1,185.2 527.6,190.1 527.6,196.4 523.4,198.5 519.2,199.9 517.8,194.3 515.0,192.9 512.2,195.7 510.1,195.0 508.7,198.5 505.2,199.9 501.7,198.5 498.2,196.4 495.4,197.8 492.8,200.6"/>
<polyline points="527.6,196.4 531.8,198.5 536.1,201.3 538.2,203.3"/>
<polyline points="607.9,188.7 605.1,192.2 610.0,197.1 612.1,203.3"/>
<polyline points="619.8,189.4 617.7,192.9 619.1,197.8 624.0,202.0 626.1,203.3"/>
<polyline points="637.3,171.2 640.8,172.6 647.2,169.8 655.6,177.5 658.4,176.8 658.8,167.0 661.9,165.7 664.7,161.5 664.7,157.3 667.5,153.1 673.1,150.7 677.5,150.3"/>
<polyline points="655.6,177.5 654.9,182.4 658.4,188.0 659.8,193.6 657.7,199.2 657.7,203.3"/>
</g>
<rect x="492.3" y="132.5" width="185.2" height="70.80000000000001" fill="none" stroke="#444" stroke-width="0.7"/>
<line x1="492.3" y1="132.5" x2="492.3" y2="203.3" stroke="#222" stroke-width="0.9"/>
<line x1="487.1" y1="132.50" x2="492.3" y2="132.50" stroke="#444" stroke-width="0.7"/>
<line x1="487.1" y1="146.96" x2="492.3" y2="146.96" stroke="#444" stroke-width="0.7"/>
<text x="482.1" y="149.96" text-anchor="end" font-family="Liberation Sans, Arial, Helvetica, sans-serif" font-size="8.2" fill="#111" stroke="#111" stroke-width="0.2">14</text>
<line x1="487.1" y1="161.12" x2="492.3" y2="161.12" stroke="#444" stroke-width="0.7"/>
<text x="482.1" y="164.12" text-anchor="end" font-family="Liberation Sans, Arial, Helvetica, sans-serif" font-size="8.2" fill="#111" stroke="#111" stroke-width="0.2">13</text>
<line x1="487.1" y1="175.28" x2="492.3" y2="175.28" stroke="#444" stroke-width="0.7"/>
<text x="482.1" y="178.28" text-anchor="end" font-family="Liberation Sans, Arial, Helvetica, sans-serif" font-size="8.2" fill="#111" stroke="#111" stroke-width="0.2">12</text>
<line x1="487.1" y1="189.44" x2="492.3" y2="189.44" stroke="#444" stroke-width="0.7"/>
<text x="482.1" y="192.44" text-anchor="end" font-family="Liberation Sans, Arial, Helvetica, sans-serif" font-size="8.2" fill="#111" stroke="#111" stroke-width="0.2">11</text>
<line x1="492.40" y1="203.3" x2="492.40" y2="208.60000000000002" stroke="#444" stroke-width="0.7"/>
<line x1="520.84" y1="203.3" x2="520.84" y2="208.60000000000002" stroke="#444" stroke-width="0.7"/>
<text x="520.84" y="219.9" text-anchor="middle" font-family="Liberation Sans, Arial, Helvetica, sans-serif" font-size="8.2" fill="#111" stroke="#111" stroke-width="0.2">-6</text>
<line x1="549.28" y1="203.3" x2="549.28" y2="208.60000000000002" stroke="#444" stroke-width="0.7"/>
<text x="549.28" y="219.9" text-anchor="middle" font-family="Liberation Sans, Arial, Helvetica, sans-serif" font-size="8.2" fill="#111" stroke="#111" stroke-width="0.2">-4</text>
<line x1="577.72" y1="203.3" x2="577.72" y2="208.60000000000002" stroke="#444" stroke-width="0.7"/>
<text x="577.72" y="219.9" text-anchor="middle" font-family="Liberation Sans, Arial, Helvetica, sans-serif" font-size="8.2" fill="#111" stroke="#111" stroke-width="0.2">-2</text>
<line x1="606.16" y1="203.3" x2="606.16" y2="208.60000000000002" stroke="#444" stroke-width="0.7"/>
<text x="606.16" y="219.9" text-anchor="middle" font-family="Liberation Sans, Arial, Helvetica, sans-serif" font-size="8.2" fill="#111" stroke="#111" stroke-width="0.2">0</text>
<line x1="634.60" y1="203.3" x2="634.60" y2="208.60000000000002" stroke="#444" stroke-width="0.7"/>
<text x="634.60" y="219.9" text-anchor="middle" font-family="Liberation Sans, Arial, Helvetica, sans-serif" font-size="8.2" fill="#111" stroke="#111" stroke-width="0.2">2</text>
<line x1="663.04" y1="203.3" x2="663.04" y2="208.60000000000002" stroke="#444" stroke-width="0.7"/>
<text x="663.04" y="219.9" text-anchor="middle" font-family="Liberation Sans, Arial, Helvetica, sans-serif" font-size="8.2" fill="#111" stroke="#111" stroke-width="0.2">4</text>
<text x="584.70" y="130" text-anchor="middle" font-family="Liberation Sans, Arial, Helvetica, sans-serif" font-size="10.4" fill="#111">ΔTmin [%]</text>
<rect x="492.30" y="235.2" width="23.45" height="14.900000000000006" fill="#FFFFCC"/>
<rect x="515.45" y="235.2" width="23.45" height="14.900000000000006" fill="#FFEA9A"/>
<rect x="538.60" y="235.2" width="23.45" height="14.900000000000006" fill="#FECE6A"/>
<rect x="561.75" y="235.2" width="23.45" height="14.900000000000006" fill="#FEA245"/>
<rect x="584.90" y="235.2" width="23.45" height="14.900000000000006" fill="#FC6932"/>
<rect x="608.05" y="235.2" width="23.45" height="14.900000000000006" fill="#EA2920"/>
<rect x="631.20" y="235.2" width="23.45" height="14.900000000000006" fill="#C20425"/>
<rect x="654.35" y="235.2" width="23.45" height="14.900000000000006" fill="#800026"/>
<rect x="492.3" y="235.2" width="185.2" height="14.900000000000006" fill="none" stroke="#111" stroke-width="0.85"/>
<line x1="492.30" y1="250.1" x2="492.30" y2="253.79999999999998" stroke="#222" stroke-width="0.7"/>
<text x="492.30" y="264.3" text-anchor="middle" font-family="Liberation Sans, Arial, Helvetica, sans-serif" font-size="8.2" fill="#111" stroke="#111" stroke-width="0.2">5.64</text>
<line x1="515.45" y1="250.1" x2="515.45" y2="253.79999999999998" stroke="#222" stroke-width="0.7"/>
<text x="515.45" y="264.3" text-anchor="middle" font-family="Liberation Sans, Arial, Helvetica, sans-serif" font-size="8.2" fill="#111" stroke="#111" stroke-width="0.2">5.92</text>
<line x1="538.60" y1="250.1" x2="538.60" y2="253.79999999999998" stroke="#222" stroke-width="0.7"/>
<text x="538.60" y="264.3" text-anchor="middle" font-family="Liberation Sans, Arial, Helvetica, sans-serif" font-size="8.2" fill="#111" stroke="#111" stroke-width="0.2">6.11</text>
<line x1="561.75" y1="250.1" x2="561.75" y2="253.79999999999998" stroke="#222" stroke-width="0.7"/>
<text x="561.75" y="264.3" text-anchor="middle" font-family="Liberation Sans, Arial, Helvetica, sans-serif" font-size="8.2" fill="#111" stroke="#111" stroke-width="0.2">6.29</text>
<line x1="584.90" y1="250.1" x2="584.90" y2="253.79999999999998" stroke="#222" stroke-width="0.7"/>
<text x="584.90" y="264.3" text-anchor="middle" font-family="Liberation Sans, Arial, Helvetica, sans-serif" font-size="8.2" fill="#111" stroke="#111" stroke-width="0.2">6.5</text>
<line x1="608.05" y1="250.1" x2="608.05" y2="253.79999999999998" stroke="#222" stroke-width="0.7"/>
<text x="608.05" y="264.3" text-anchor="middle" font-family="Liberation Sans, Arial, Helvetica, sans-serif" font-size="8.2" fill="#111" stroke="#111" stroke-width="0.2">6.73</text>
<line x1="631.20" y1="250.1" x2="631.20" y2="253.79999999999998" stroke="#222" stroke-width="0.7"/>
<text x="631.20" y="264.3" text-anchor="middle" font-family="Liberation Sans, Arial, Helvetica, sans-serif" font-size="8.2" fill="#111" stroke="#111" stroke-width="0.2">7.01</text>
<line x1="654.35" y1="250.1" x2="654.35" y2="253.79999999999998" stroke="#222" stroke-width="0.7"/>
<text x="654.35" y="264.3" text-anchor="middle" font-family="Liberation Sans, Arial, Helvetica, sans-serif" font-size="8.2" fill="#111" stroke="#111" stroke-width="0.2">7.44</text>
<line x1="677.50" y1="250.1" x2="677.50" y2="253.79999999999998" stroke="#222" stroke-width="0.7"/>
<text x="677.50" y="264.3" text-anchor="middle" font-family="Liberation Sans, Arial, Helvetica, sans-serif" font-size="8.2" fill="#111" stroke="#111" stroke-width="0.2">8.06</text>
</svg></body></html>
